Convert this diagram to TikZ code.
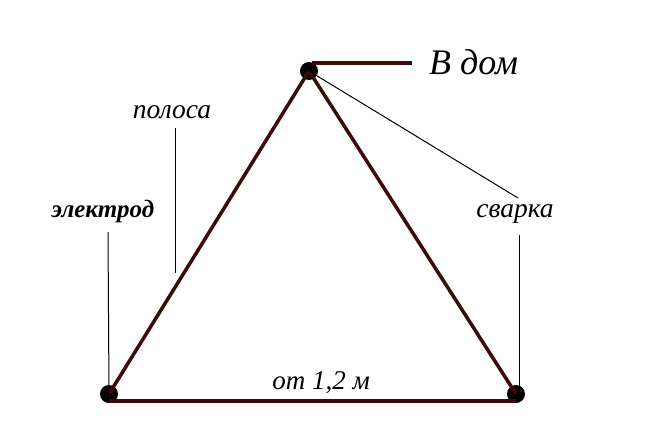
\documentclass[tikz,border=0pt]{standalone}
\usepackage{fontspec}
\setmainfont{Liberation Serif}
\begin{document}
\begin{tikzpicture}[x=1pt,y=-1pt,
  strip/.style={line width=3.5pt,draw={rgb,255:red,60;green,10;blue,10}},
  lead/.style={line width=1pt,draw=black},
  weld/.style={circle,fill=black,inner sep=0pt,minimum size=18pt},
  lbl/.style={font=\itshape\fontsize{27.5}{30}\selectfont,inner sep=0pt}]
\useasboundingbox (0,0) rectangle (648,445);
\node[weld] (T) at (309,71) {};
\node[weld] (L) at (109,394) {};
\node[weld] (R) at (516,394) {};
\coordinate (Lb) at (109,401);
\coordinate (Rb) at (516,401);
\coordinate (H) at (412,63);
\coordinate (Ts) at (312,63);
\draw[strip] (T.center) -- (L.center);
\draw[strip] (T.center) -- (R.center);
\draw[strip] (Lb) -- (Rb);
\draw[strip] (Ts) -- (H);
\node[lbl,font=\itshape\fontsize{36}{40}\selectfont,anchor=west] (dom) at (429,62) {В дом};
\node[lbl] (svarka) at (515,214) {сварка};
\node[lbl] (polosa) at (172,112) {полоса};
\node[lbl,font=\bfseries\itshape\fontsize{25}{28}\selectfont] (elektrod) at (103,211) {электрод};
\node[lbl,font=\itshape\fontsize{27}{30}\selectfont] (ot) at (321,383) {от 1,2 м};
\coordinate (pf) at (175,273);
\coordinate (sv) at (519,235);
\draw[lead] (T.center) -- (518,198);
\draw[lead] (sv) -- (519,390);
\draw[lead] (175,128) -- (pf);
\draw[lead] (108,232) -- (L.center);
\end{tikzpicture}
\end{document}
